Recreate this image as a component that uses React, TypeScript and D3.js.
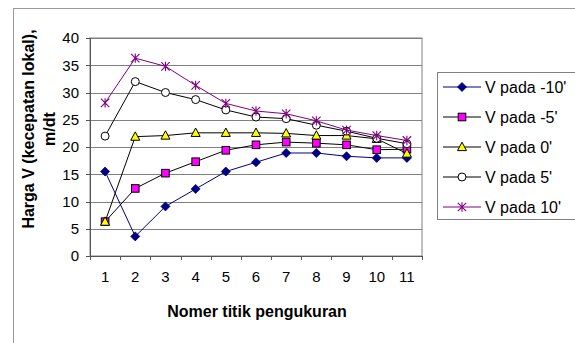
import React from "react";
import * as d3 from "d3";

const categories = ["1", "2", "3", "4", "5", "6", "7", "8", "9", "10", "11"];
const yTicks = [0, 5, 10, 15, 20, 25, 30, 35, 40];
const seriesNames = ["V pada -10'", "V pada -5'", "V pada 0'", "V pada 5'", "V pada 10'"];
const vMinus10 = [15.5, 3.6, 9.1, 12.3, 15.5, 17.2, 18.9, 18.9, 18.3, 18.0, 18.0];
const vMinus5 = [6.3, 12.4, 15.2, 17.3, 19.4, 20.4, 20.9, 20.7, 20.4, 19.5, 19.6];
const v0 = [6.3, 21.9, 22.1, 22.6, 22.6, 22.6, 22.5, 22.1, 22.1, 21.5, 18.8];
const v5 = [22.0, 32.0, 30.0, 28.7, 26.8, 25.5, 25.2, 24.0, 22.9, 21.6, 20.6];
const v10 = [28.1, 36.3, 34.8, 31.3, 28.0, 26.6, 26.1, 24.8, 23.1, 22.1, 21.2];

const seriesValues = [vMinus10, vMinus5, v0, v5, v10];
const lineColors = ["#000080", "#000000", "#000000", "#000000", "#800080"];
const markerKinds = ["diamond", "square", "triangle", "circle", "star"];

const FONT = "'Liberation Sans', Arial, sans-serif";

function Marker({ kind, x, y }: { kind: string; x: number; y: number }) {
  if (kind === "diamond") {
    return <path d={`M${x},${y - 4.5}L${x + 4.5},${y}L${x},${y + 4.5}L${x - 4.5},${y}Z`} fill="#000080" stroke="#000080" strokeWidth={0.8} />;
  }
  if (kind === "square") {
    return <rect x={x - 3.8} y={y - 3.8} width={7.6} height={7.6} fill="#FF00FF" stroke="#000" strokeWidth={1} />;
  }
  if (kind === "triangle") {
    return <path d={`M${x},${y - 4.8}L${x + 4.5},${y + 3.6}L${x - 4.5},${y + 3.6}Z`} fill="#FFFF00" stroke="#000" strokeWidth={1} />;
  }
  if (kind === "circle") {
    return <circle cx={x} cy={y} r={4} fill="#fff" stroke="#000" strokeWidth={1} />;
  }
  const s = 4.2;
  return (
    <path
      d={`M${x - s},${y - s}L${x + s},${y + s}M${x - s},${y + s}L${x + s},${y - s}M${x},${y - s - 0.5}L${x},${y + s + 0.5}`}
      stroke="#800080"
      strokeWidth={1.1}
      fill="none"
    />
  );
}

export default function App() {
  const left = 90, right = 422, top = 38, bottom = 256;
  const x = d3.scaleBand<string>().domain(categories).range([left, right]);
  const y = d3.scaleLinear().domain([0, 40]).range([bottom, top]);
  const cx = (c: string) => (x(c) as number) + x.bandwidth() / 2;
  const line = d3
    .line<number>()
    .x((_, i) => cx(categories[i]))
    .y((d) => y(d));

  const legendX = 437, legendY = 72, legendH = 147, legendRowH = 30;

  return (
    <svg width={575} height={343} style={{ position: "absolute", left: 0, top: 0, background: "#fff" }} fontFamily={FONT}>
      <rect x={13.5} y={8.5} width={600} height={400} fill="#fff" stroke="#9a9a9a" strokeWidth={1} />
      {/* plot area */}
      <rect x={left} y={top} width={right - left} height={bottom - top} fill="#fff" stroke="#808080" strokeWidth={1} />
      {yTicks.map((t) => (
        <g key={t}>
          <line x1={left} x2={right} y1={Math.round(y(t)) + 0.5} y2={Math.round(y(t)) + 0.5} stroke="#808080" strokeWidth={1} />
          <line x1={left - 4} x2={left} y1={Math.round(y(t)) + 0.5} y2={Math.round(y(t)) + 0.5} stroke="#555" strokeWidth={1} />
          <text x={79} y={y(t)} dy="0.35em" textAnchor="end" fontSize={15} fill="#000">
            {t}
          </text>
        </g>
      ))}
      <line x1={left + 0.5} x2={left + 0.5} y1={top} y2={bottom + 0.5} stroke="#555" strokeWidth={1} />
      <line x1={left} x2={right} y1={bottom + 0.5} y2={bottom + 0.5} stroke="#555" strokeWidth={1} />
      {categories.concat(["end"]).map((c, i) => {
        const xx = Math.round(left + i * x.bandwidth()) + 0.5;
        return <line key={c} x1={xx} x2={xx} y1={bottom} y2={bottom + 4} stroke="#555" strokeWidth={1} />;
      })}
      {categories.map((c) => (
        <text key={c} x={cx(c)} y={277} dy="0.35em" textAnchor="middle" fontSize={15} fill="#000">
          {c}
        </text>
      ))}
      <text x={257} y={311} dy="0.35em" textAnchor="middle" fontSize={16} fontWeight="bold" fill="#000">
        Nomer titik pengukuran
      </text>
      <g transform="translate(28,129) rotate(-90)">
        <text x={0} y={0} dy="0.35em" textAnchor="middle" fontSize={16} fontWeight="bold" fill="#000">
          Harga V (kecepatan lokal),
        </text>
        <text x={0} y={21} dy="0.35em" textAnchor="middle" fontSize={16} fontWeight="bold" fill="#000">
          m/dt
        </text>
      </g>
      {/* series */}
      {seriesValues.map((vals, si) => (
        <g key={si}>
          <path d={line(vals) || ""} fill="none" stroke={lineColors[si]} strokeWidth={1} />
          {vals.map((v, i) => (
            <Marker key={i} kind={markerKinds[si]} x={cx(categories[i])} y={y(v)} />
          ))}
        </g>
      ))}
      {/* legend */}
      <rect x={legendX + 0.5} y={legendY + 0.5} width={200} height={legendH} fill="#fff" stroke="#808080" strokeWidth={1} />
      {seriesNames.map((n, i) => {
        const ly = legendY + 15 + i * legendRowH;
        return (
          <g key={n}>
            <line x1={443} x2={481} y1={ly} y2={ly} stroke={lineColors[i]} strokeWidth={1} />
            <Marker kind={markerKinds[i]} x={462} y={ly} />
            <text x={485} y={ly} dy="0.35em" fontSize={16} fill="#000">
              {n}
            </text>
          </g>
        );
      })}
    </svg>
  );
}
